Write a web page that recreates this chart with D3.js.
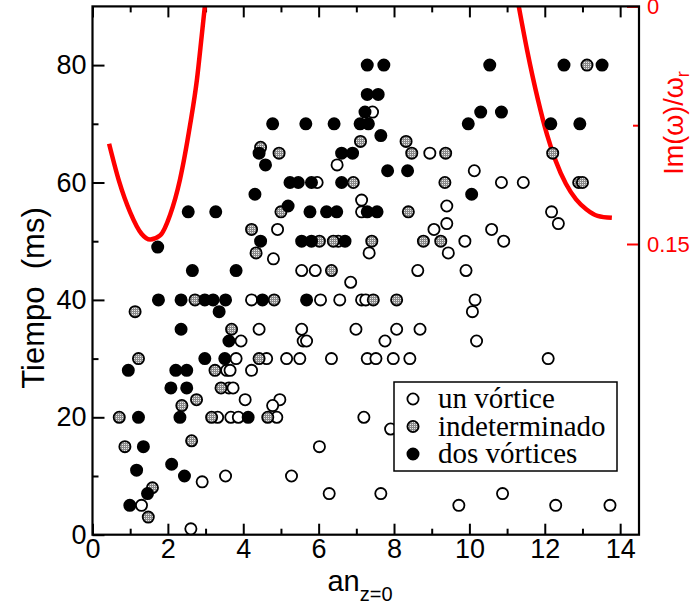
<!DOCTYPE html>
<html>
<head>
<meta charset="utf-8">
<script src="https://cdn.jsdelivr.net/npm/d3@7"></script>
<style>
  body { margin: 0; background: #fff; }
  svg { display: block; }
</style>
</head>
<body>
<div id="chart"></div>
<script>
// puntos: [an_{z=0}, tiempo (ms)]
var unVortice = [
  [6.49,63],[10.13,62],[5.96,60],[10.85,60],[11.43,60],[7.14,57],[9.40,56],[7.14,55],[12.18,55],
  [9.40,53],[12.36,53],[4.91,52],[9.06,52],[10.59,52],[6.52,50],[9.88,50],[10.91,50],[7.34,48],
  [9.44,48],[4.80,47],[5.55,45],[5.91,45],[8.63,45],[9.91,45],[6.85,43],[4.22,40],[6.05,40],
  [6.56,40],[7.14,40],[7.25,40],[10.15,40],[10.08,38],[4.42,35],[5.55,35],[6.99,35],[8.07,35],
  [8.69,35],[3.94,33],[5.59,33],[5.68,33],[7.76,33],[10.19,33],[3.81,30],[4.62,30],[5.15,30],
  [5.50,30],[6.34,30],[7.29,30],[7.52,30],[7.98,30],[8.42,30],[12.09,30],[3.56,28],[3.65,28],
  [4.22,28],[3.62,25],[3.73,25],[4.05,23],[4.97,23],[4.78,22],[3.32,20],[3.67,20],[3.87,20],
  [4.89,20],[7.20,20],[7.91,18],[6.02,15],[3.53,10],[5.28,10],[2.91,9],[6.28,7],[7.65,7],
  [10.88,7],[1.30,5],[9.72,5],[12.29,5],[13.73,5],[2.61,1],[8.95,65],[7.43,72]
];
var indeterminado = [
  [4.46,66],[4.95,65],[8.47,65],[9.37,65],[12.21,65],[7.11,67],[8.32,67],[6.92,60],[9.35,60],
  [12.9,60],[13.0,60],[5.0,55],[8.38,55],[4.22,52],[6.02,50],[6.39,50],[7.41,50],[8.78,50],
  [9.24,50],[4.34,48],[6.34,45],[2.72,40],[4.82,40],[7.45,40],[8.07,40],[1.13,38],[3.69,35],
  [1.22,30],[4.42,30],[3.25,28],[3.41,25],[2.76,23],[2.37,22],[0.71,20],[3.16,20],[4.65,20],
  [2.63,16],[0.86,15],[1.59,8],[1.48,3],[13.12,80]
];
var dosVortices = [
  [7.29,80],[7.73,80],[10.54,80],[12.51,80],[13.52,80],[7.29,75],[7.58,75],[7.23,72],[10.30,72],
  [10.85,72],[4.78,70],[5.66,70],[6.41,70],[7.10,70],[7.32,70],[9.97,70],[12.16,70],[12.93,70],
  [7.65,68],[4.42,65],[6.61,65],[6.90,65],[4.59,63],[7.83,62],[8.36,62],[5.24,60],[5.46,60],
  [5.81,60],[6.61,60],[4.31,58],[10.06,58],[5.19,56],[2.54,55],[3.27,55],[5.77,55],[6.21,55],
  [6.48,55],[7.29,55],[7.55,55],[4.46,50],[5.55,50],[5.81,50],[6.70,50],[1.73,49],[2.65,45],
  [3.81,45],[1.75,40],[2.35,40],[2.98,40],[3.20,40],[3.53,40],[4.51,40],[5.68,40],[3.36,38],
  [2.35,35],[3.62,33],[2.98,30],[3.51,30],[0.95,28],[2.21,28],[2.50,28],[2.08,25],[2.50,25],
  [1.22,20],[2.32,20],[4.13,20],[1.35,15],[2.10,12],[1.17,11],[2.44,10],[1.46,7],[0.99,5]
];

// curvas rojas: [an, Im(w)/w_r] (eje derecho)
var curvaIzq = [
  [0.44,0.0867],[0.7,0.110],[1.0,0.130],[1.3,0.1435],[1.53,0.1472],[1.79,0.1447],
  [2.06,0.1315],[2.32,0.1094],[2.59,0.0747],[2.77,0.0464],[2.90,0.0180],[2.98,0.0]
];
var curvaDer = [
  [11.31,0.0],[11.53,0.0275],[11.82,0.0590],[12.06,0.0810],[12.29,0.0975],[12.56,0.1120],
  [12.83,0.1218],[13.1,0.1280],[13.4,0.1322],[13.78,0.1335]
];

var xTicks = [0, 2, 4, 6, 8, 10, 12, 14];
var yTicks = [0, 20, 40, 60, 80];
var rTicks = [0, 0.15];

var W = 690, H = 614;
var pLeft = 92.5, pRight = 639, pTop = 6.4, pBottom = 534.7;

var svg = d3.select("#chart").append("svg")
    .attr("width", W)
    .attr("height", H);

var defs = svg.append("defs");
var pat = defs.append("pattern")
    .attr("id", "gris")
    .attr("width", 2).attr("height", 2)
    .attr("patternUnits", "userSpaceOnUse");
pat.append("rect").attr("width", 2).attr("height", 2).attr("fill", "#8a8a8a");
pat.append("rect").attr("width", 1).attr("height", 1).attr("fill", "#e8e8e8");

var x = d3.scaleLinear().domain([0, 14.5]).range([pLeft, pRight]);
var y = d3.scaleLinear().domain([0, 90]).range([pBottom, pTop]);
var yr = d3.scaleLinear().domain([0, 0.15]).range([pTop, 244]);

var font = "'Liberation Sans', Arial, sans-serif";

// ejes
function styleAxis(g) {
    g.select(".domain").remove();
    g.selectAll(".tick line").attr("stroke", "#000").attr("stroke-width", 2);
    g.selectAll("text").attr("font-family", font).attr("font-size", 27).attr("fill", "#000");
}

svg.append("g")
    .attr("transform", "translate(0," + pBottom + ")")
    .call(d3.axisBottom(x).tickValues(xTicks).tickSize(-11).tickPadding(4).tickFormat(d3.format("d")))
    .call(styleAxis);
svg.append("g")
    .attr("transform", "translate(0," + pBottom + ")")
    .call(d3.axisBottom(x).tickValues(d3.range(1, 15, 2)).tickSize(-6).tickFormat(""))
    .call(styleAxis);
svg.append("g")
    .attr("transform", "translate(0," + pTop + ")")
    .call(d3.axisTop(x).tickValues(xTicks).tickSize(-11).tickFormat(""))
    .call(styleAxis);
svg.append("g")
    .attr("transform", "translate(0," + pTop + ")")
    .call(d3.axisTop(x).tickValues(d3.range(1, 15, 2)).tickSize(-6).tickFormat(""))
    .call(styleAxis);
svg.append("g")
    .attr("transform", "translate(" + pLeft + ",0)")
    .call(d3.axisLeft(y).tickValues(yTicks).tickSize(-12).tickPadding(6).tickFormat(d3.format("d")))
    .call(styleAxis);
svg.append("g")
    .attr("transform", "translate(" + pLeft + ",0)")
    .call(d3.axisLeft(y).tickValues([10, 30, 50, 70]).tickSize(-6).tickFormat(""))
    .call(styleAxis);

// eje derecho rojo
var gr = svg.append("g")
    .attr("transform", "translate(" + pRight + ",0)")
    .call(d3.axisRight(yr).tickValues(rTicks).tickSize(-12).tickPadding(8)
        .tickFormat(function(d) { return d === 0 ? "0" : d3.format(".2f")(d); }));
gr.select(".domain").remove();
gr.selectAll(".tick line").attr("stroke", "#f00").attr("stroke-width", 2);
gr.selectAll("text").attr("font-family", font).attr("font-size", 22).attr("fill", "#f00");
var gr2 = svg.append("g")
    .attr("transform", "translate(" + pRight + ",0)")
    .call(d3.axisRight(yr).tickValues([0.075]).tickSize(-6).tickFormat(""));
gr2.select(".domain").remove();
gr2.selectAll(".tick line").attr("stroke", "#f00").attr("stroke-width", 2);

// curvas
var clip = defs.append("clipPath").attr("id", "area");
clip.append("rect").attr("x", pLeft).attr("y", pTop).attr("width", pRight - pLeft).attr("height", pBottom - pTop);

var line = d3.line()
    .x(function(d) { return x(d[0]); })
    .y(function(d) { return yr(d[1]); })
    .curve(d3.curveMonotoneX);

[curvaIzq, curvaDer].forEach(function(c) {
    svg.append("path")
        .datum(c)
        .attr("d", line)
        .attr("fill", "none")
        .attr("stroke", "#f00")
        .attr("stroke-width", 4.5)
        .attr("clip-path", "url(#area)");
});

// marco
svg.append("rect")
    .attr("x", pLeft).attr("y", pTop)
    .attr("width", pRight - pLeft).attr("height", pBottom - pTop)
    .attr("fill", "none").attr("stroke", "#000").attr("stroke-width", 2.2);

// puntos
var series = [
    { datos: unVortice, fill: "#fff" },
    { datos: indeterminado, fill: "url(#gris)" },
    { datos: dosVortices, fill: "#000" }
];
series.forEach(function(s) {
    svg.append("g").selectAll("circle")
        .data(s.datos)
        .enter().append("circle")
        .attr("cx", function(d) { return x(d[0]); })
        .attr("cy", function(d) { return y(d[1]); })
        .attr("r", 5.6)
        .attr("fill", s.fill)
        .attr("stroke", "#000")
        .attr("stroke-width", 1.8);
});

// leyenda
var leg = svg.append("g");
leg.append("rect")
    .attr("x", 394).attr("y", 382).attr("width", 223).attr("height", 89)
    .attr("fill", "#fff").attr("stroke", "#000").attr("stroke-width", 1.5);
var nombres = ["un vórtice", "indeterminado", "dos vórtices"];
nombres.forEach(function(n, i) {
    leg.append("circle")
        .attr("cx", 413).attr("cy", 399 + i * 27.5)
        .attr("r", 5.6)
        .attr("fill", series[i].fill)
        .attr("stroke", "#000").attr("stroke-width", 1.8);
    leg.append("text")
        .attr("x", 438).attr("y", 408 + i * 27.5)
        .attr("font-family", "'Liberation Serif', 'Times New Roman', serif")
        .attr("font-size", 29)
        .text(n);
});

// titulos de ejes
svg.append("text")
    .attr("transform", "translate(44,298) rotate(-90)")
    .attr("text-anchor", "middle")
    .attr("font-family", font)
    .attr("font-size", 31)
    .text("Tiempo\u00a0\u00a0(ms)");

var xl = svg.append("text")
    .attr("x", 360).attr("y", 591)
    .attr("text-anchor", "middle")
    .attr("font-family", font)
    .attr("font-size", 29);
xl.append("tspan").text("an");
xl.append("tspan").attr("dy", 10).attr("font-size", 20).text("z=0");

var rl = svg.append("text")
    .attr("transform", "translate(683,123) rotate(-90)")
    .attr("text-anchor", "middle")
    .attr("font-family", font)
    .attr("font-size", 27)
    .attr("fill", "#f00");
rl.append("tspan").text("Im(ω)/ω");
rl.append("tspan").attr("dy", 6).attr("font-size", 18).text("r");
</script>
</body>
</html>
